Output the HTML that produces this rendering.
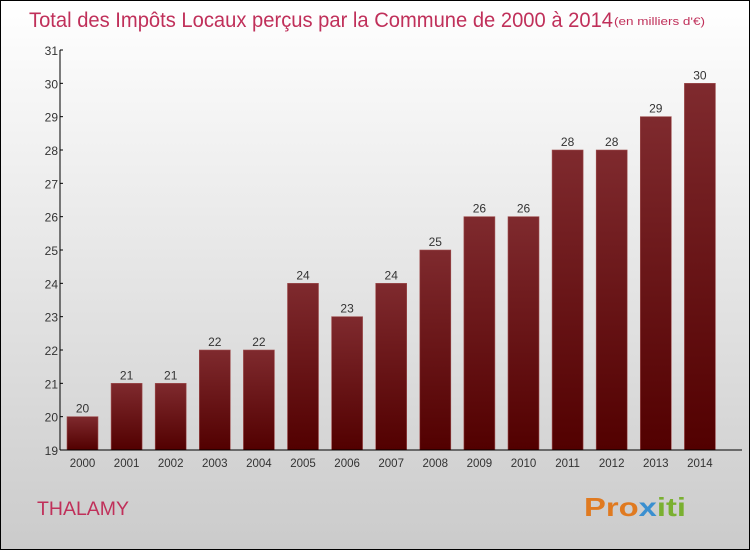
<!DOCTYPE html>
<html><head><meta charset="utf-8"><style>
body{margin:0}
#c{position:relative;width:748px;height:548px;border:1px solid #000;background:linear-gradient(#fff,#cbcbcb);font-family:"Liberation Sans",sans-serif;overflow:hidden}
</style></head><body>
<div id="c">
<svg id="s" width="748" height="548" style="position:absolute;left:0;top:0">
<defs><linearGradient id="g" x1="0" y1="0" x2="0" y2="1"><stop offset="0" stop-color="#7f2a2e"/><stop offset="1" stop-color="#520000"/></linearGradient></defs>
<text x="28" y="26" font-size="21" fill="#c0305a" textLength="584" lengthAdjust="spacingAndGlyphs">Total des Impôts Locaux perçus par la Commune de 2000 à 2014</text>
<text x="613" y="24" font-size="11" fill="#c0305a" textLength="91" lengthAdjust="spacingAndGlyphs">(en milliers d'€)</text>
<text x="36" y="514" font-size="19" fill="#c0305a" textLength="92" lengthAdjust="spacingAndGlyphs">THALAMY</text>
<text x="583" y="515" font-size="26" font-weight="bold" fill="#e07a20" textLength="102" lengthAdjust="spacingAndGlyphs">Pro<tspan fill="#3a8fd0">x</tspan><tspan fill="#7ab030">iti</tspan></text>
<g id="plot"></g>
</svg>
</div>
<script>
const years=["2000","2001","2002","2003","2004","2005","2006","2007","2008","2009","2010","2011","2012","2013","2014"];
const values=[20,21,21,22,22,24,23,24,25,26,26,28,28,29,30];
const yTicks=[19,20,21,22,23,24,25,26,27,28,29,30,31];
const NS="http://www.w3.org/2000/svg";
const g=document.getElementById('plot');
const x0=59,yMin=19,yMax=31,yb=449,yt=49;
const y=v=>yb-(v-yMin)*(yb-yt)/(yMax-yMin);
const bx=i=>66+i*44.1;
function el(t,a){const e=document.createElementNS(NS,t);for(const k in a)e.setAttribute(k,a[k]);g.appendChild(e);return e;}
values.forEach((v,i)=>{
 const r=el('rect',{x:bx(i),y:y(v),width:31,height:yb-y(v),fill:'url(#g)',stroke:'#a05050','stroke-width':0.6});
 
 
 const t=el('text',{x:bx(i)+15.5,y:y(v)-4,'text-anchor':'middle','font-size':12,fill:'#333'});t.textContent=v;
 
 
 const xl=el('text',{x:bx(i)+15.5,y:466,'text-anchor':'middle','font-size':11.5,fill:'#333'});xl.textContent=years[i];
 
 
});
yTicks.forEach(v=>{
 const l=el('line',{x1:x0,x2:x0+3,y1:y(v),y2:y(v),stroke:'#000'});
 
 
 const t=el('text',{x:x0-2,y:y(v)+5,'text-anchor':'end','font-size':12,fill:'#333'});t.textContent=v;
 
 
});
const ya=el('line',{x1:x0,x2:x0,y1:yt,y2:yb,stroke:'#000'});


const xa=el('line',{x1:x0,x2:741,y1:yb,y2:yb,stroke:'#000'});


</script>
</body></html>
